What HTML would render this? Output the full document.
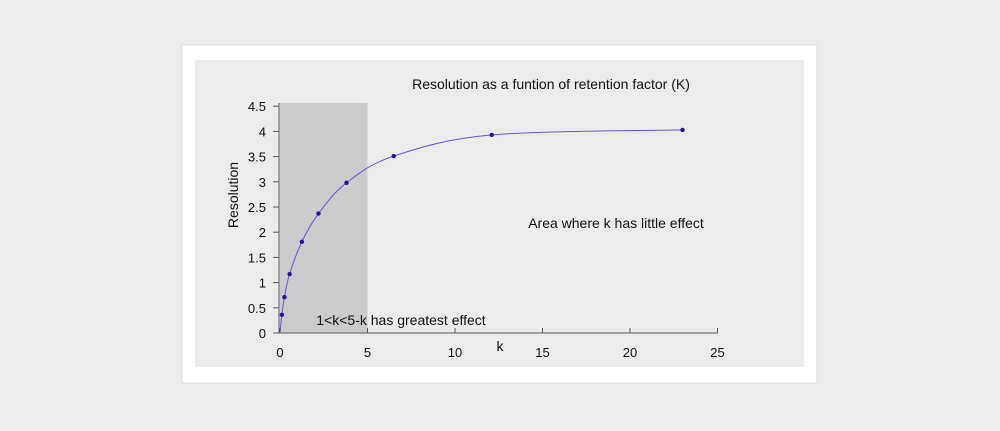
<!DOCTYPE html>
<html><head><meta charset="utf-8"><style>
html,body{margin:0;padding:0;background:#ececec;width:1000px;height:431px;overflow:hidden}
svg{position:absolute;left:0;top:0}
text{font-family:"Liberation Sans",sans-serif;fill:#111}
</style></head><body>
<svg width="1000" height="431">
<rect x="0" y="0" width="1000" height="431" fill="#ececec"/>
<rect x="182" y="45" width="635" height="338" fill="#fff" stroke="#ddd"/>
<rect x="195" y="60" width="609" height="307" fill="#ececec"/>
<g id="plot"></g>
</svg>
<script>
const kValues=[0.11,0.25,0.55,1.25,2.2,3.8,6.5,12.1,23];
const resValues=[0.36,0.71,1.17,1.81,2.37,2.98,3.51,3.93,4.03];
const xTicks=[0,5,10,15,20,25];
const yTicks=[0,0.5,1,1.5,2,2.5,3,3.5,4,4.5];
const shadeRange=[0,5];
const X=v=>280+v*17.5, Y=v=>333-v*50.4;
const NS="http://www.w3.org/2000/svg";
const g=document.getElementById('plot');
function mk(t,a,txt){const e=document.createElementNS(NS,t);for(const k in a)e.setAttribute(k,a[k]);if(txt!==undefined)e.textContent=txt;g.appendChild(e);return e;}
let e=mk('rect',{x:X(shadeRange[0]),y:103,width:X(shadeRange[1])-X(shadeRange[0]),height:Y(0)-103,fill:'#cbcbcb'});


// axes
e=mk('line',{x1:279,y1:Y(0),x2:X(25),y2:Y(0),stroke:'#555','stroke-width':1});


e=mk('line',{x1:279,y1:Y(0),x2:279,y2:103,stroke:'#555','stroke-width':1});


xTicks.forEach(t=>{
 e=mk('line',{x1:X(t),y1:Y(0),x2:X(t),y2:Y(0)-5,stroke:'#555'});
 
 
 e=mk('text',{x:X(t),y:357,'text-anchor':'middle','font-size':13},String(t));
 
 
});
yTicks.forEach(t=>{
 e=mk('line',{x1:273,y1:Y(t),x2:279,y2:Y(t),stroke:'#555'});
 
 
 e=mk('text',{x:266,y:Y(t)+5,'text-anchor':'end','font-size':13},String(t));
 
 
});
// curve
const px=[0,...kValues].map(X), py=[0,...resValues].map(Y);
let d=`M${px[0]},${py[0]}`;
for(let i=0;i<px.length-1;i++){
 const p0=Math.max(i-1,0),p3=Math.min(i+2,px.length-1);
 const c1x=px[i]+(px[i+1]-px[p0])/6,c1y=py[i]+(py[i+1]-py[p0])/6;
 const c2x=px[i+1]-(px[p3]-px[i])/6,c2y=py[i+1]-(py[p3]-py[i])/6;
 d+=` C${c1x},${c1y} ${c2x},${c2y} ${px[i+1]},${py[i+1]}`;
}
e=mk('path',{d:d,fill:'none',stroke:'#6a52d8','stroke-width':1});


kValues.forEach((k,i)=>{
 e=mk('circle',{cx:X(k),cy:Y(resValues[i]),r:2.2,fill:'#2a0fa0'});
 
 
});
e=mk('text',{x:551,y:89,'text-anchor':'middle','font-size':14},'Resolution as a funtion of retention factor (K)');


e=mk('text',{x:616,y:228,'text-anchor':'middle','font-size':14},'Area where k has little effect');


e=mk('text',{x:401,y:325,'text-anchor':'middle','font-size':14},'1<k<5-k has greatest effect');


e=mk('text',{x:500,y:351,'text-anchor':'middle','font-size':14},'k');


e=mk('text',{x:238,y:195,'text-anchor':'middle','font-size':14,transform:'rotate(-90 238 195)'},'Resolution');


</script>
</body></html>
